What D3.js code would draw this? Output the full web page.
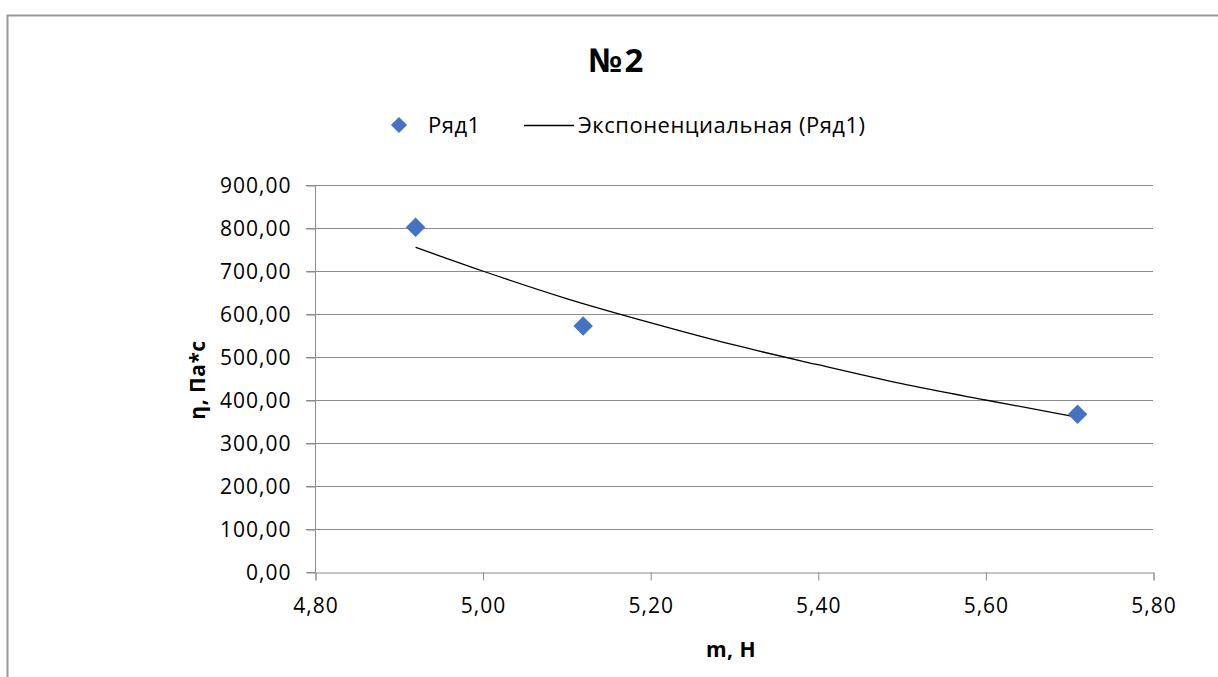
<!DOCTYPE html>
<html>
<head>
<meta charset="utf-8">
<script src="https://cdn.jsdelivr.net/npm/d3@7"></script>
<style>
  body { margin: 0; background: #fff; }
  text { font-family: "Open Sans", "Liberation Sans", sans-serif; fill: #000; }
</style>
</head>
<body>
<script>
// data
const massN = [4.92, 5.12, 5.71];
const viscosity = [802, 572, 367];
// trend line (exponential fit drawn by the spreadsheet)
const trendX = [4.92, 5.00, 5.10, 5.20, 5.30, 5.40, 5.50, 5.60, 5.71];
const trendY = [755, 700, 636, 580, 528, 482, 438, 400, 360];
const xTicks = [4.8, 5.0, 5.2, 5.4, 5.6, 5.8];
const yTicks = [0, 100, 200, 300, 400, 500, 600, 700, 800, 900];

const W = 1218, H = 677;
const plot = { left: 315, right: 1153, top: 185, bottom: 572 };
const comma = d => d3.format('.2f')(d).replace('.', ',');
const FONT = '"Open Sans", "Liberation Sans", sans-serif';

const svg = d3.select('body').append('svg')
    .attr('width', W)
    .attr('height', H);

// chart frame (only top and left edges visible)
svg.append('path')
    .attr('d', `M7.5,${H} V15.5 H${W}`)
    .attr('fill', 'none')
    .attr('stroke', '#9a9a9a')
    .attr('stroke-width', 2);

const x = d3.scaleLinear().domain([4.8, 5.8]).range([plot.left, plot.right]);
const y = d3.scaleLinear().domain([0, 900]).range([plot.bottom, plot.top]);

// gridlines
svg.append('g')
    .selectAll('line')
    .data(yTicks.slice(1))
    .enter()
    .append('line')
    .attr('x1', plot.left - 9)
    .attr('x2', plot.right)
    .attr('y1', d => Math.round(y(d)) + 0.5)
    .attr('y2', d => Math.round(y(d)) + 0.5)
    .attr('stroke', '#8c8c8c')
    .attr('stroke-width', 1);

// y axis
const yAxis = d3.axisLeft(y)
    .tickValues(yTicks)
    .tickFormat(comma)
    .tickSize(9)
    .tickPadding(15);
const yAxisGroup = svg.append('g')
    .attr('transform', `translate(${plot.left + 0.5},0.5)`)
    .call(yAxis);

// x axis
const xAxis = d3.axisBottom(x)
    .tickValues(xTicks)
    .tickFormat(comma)
    .tickSize(8)
    .tickPadding(10);
const xAxisGroup = svg.append('g')
    .attr('transform', `translate(0.5,${plot.bottom + 0.5})`)
    .call(xAxis);

[yAxisGroup, xAxisGroup].forEach(g => {
    g.select('.domain').attr('stroke', '#8c8c8c');
    g.selectAll('.tick line').attr('stroke', '#8c8c8c');
    g.selectAll('.tick text')
        .style('font-size', '21px')
        .style('letter-spacing', '1px')
        .style('font-family', FONT)
        .attr('fill', '#000');
});
yAxisGroup.select('.domain').attr('d', `M-9,${plot.bottom}H0V${plot.top}`);
xAxisGroup.selectAll('.tick text').attr('dy', '1.05em');

// trend line
const line = d3.line()
    .x(d => x(d[0]))
    .y(d => y(d[1]))
    .curve(d3.curveMonotoneX);
svg.append('path')
    .datum(trendX.map((v, i) => [v, trendY[i]]))
    .attr('d', line)
    .attr('fill', 'none')
    .attr('stroke', '#000')
    .attr('stroke-width', 1.3);

// points
const diamond = d3.symbol().type(d3.symbolSquare).size(190);
svg.append('g')
    .selectAll('path')
    .data(massN.map((v, i) => [v, viscosity[i]]))
    .enter()
    .append('path')
    .attr('d', diamond)
    .attr('transform', d => `translate(${x(d[0])},${y(d[1])}) rotate(45)`)
    .attr('fill', '#4472c4');

// title
svg.append('text')
    .attr('x', 617)
    .attr('y', 72)
    .attr('text-anchor', 'middle')
    .style('font-size', '33px')
    .style('letter-spacing', '2px')
    .style('font-weight', 'bold')
    .text('№2');

// legend
svg.append('path')
    .attr('d', d3.symbol().type(d3.symbolSquare).size(130))
    .attr('transform', 'translate(399,125) rotate(45)')
    .attr('fill', '#4472c4');
svg.append('text')
    .attr('x', 428)
    .attr('y', 133)
    .style('font-size', '22px')
    .style('letter-spacing', '0.5px')
    .text('Ряд1');
svg.append('line')
    .attr('x1', 524).attr('x2', 574)
    .attr('y1', 125.5).attr('y2', 125.5)
    .attr('stroke', '#000')
    .attr('stroke-width', 1.3);
svg.append('text')
    .attr('x', 578)
    .attr('y', 133)
    .style('font-size', '22px')
    .style('letter-spacing', '0.5px')
    .text('Экспоненциальная (Ряд1)');

// axis titles
svg.append('text')
    .attr('x', 731)
    .attr('y', 657)
    .attr('text-anchor', 'middle')
    .style('font-size', '21px')
    .style('letter-spacing', '0.5px')
    .style('font-weight', 'bold')
    .text('m, Н');
svg.append('text')
    .attr('transform', 'translate(205,380) rotate(-90)')
    .attr('text-anchor', 'middle')
    .style('font-size', '21px')
    .style('letter-spacing', '0.5px')
    .style('font-weight', 'bold')
    .text('η, Па*с');
</script>
</body>
</html>
